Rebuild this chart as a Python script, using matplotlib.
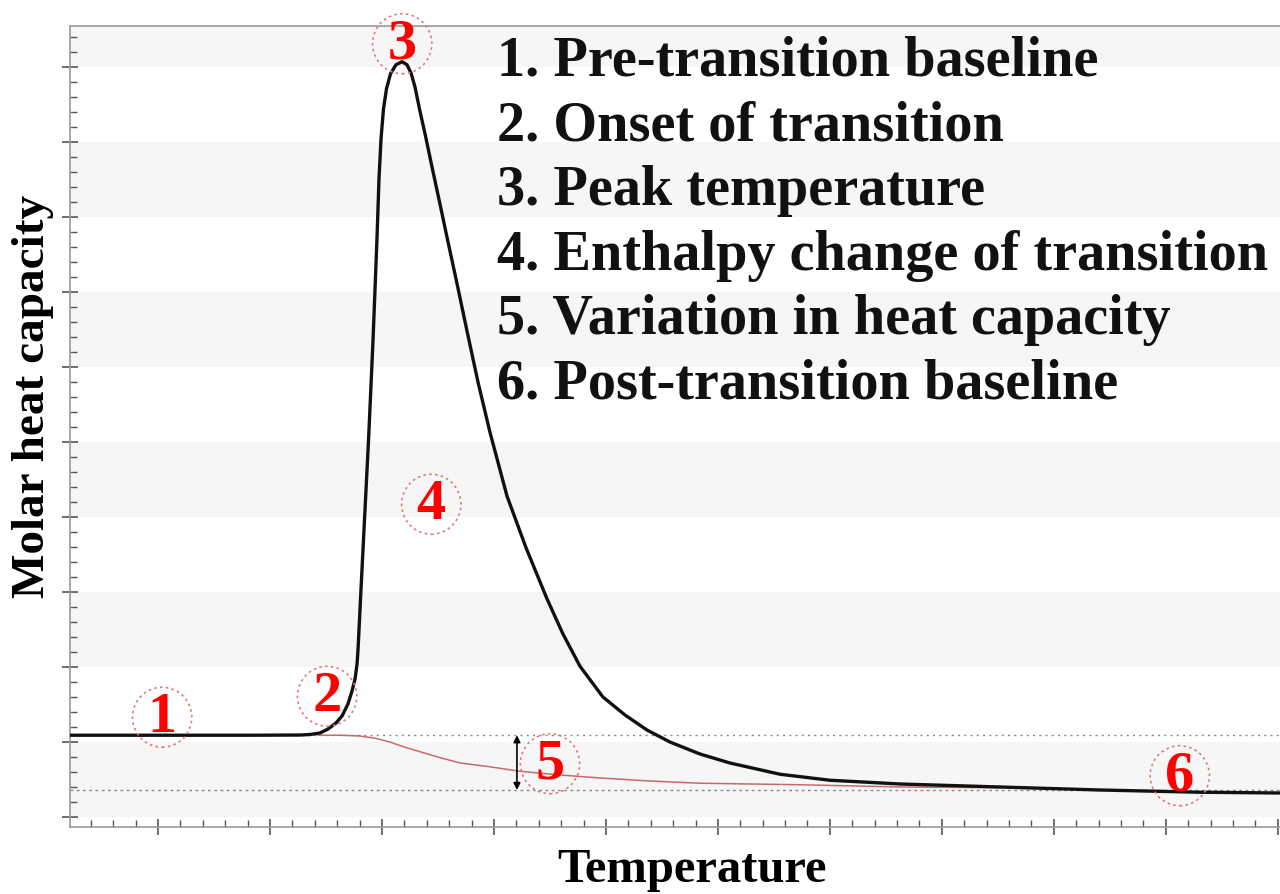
import matplotlib

matplotlib.use("Agg")
import matplotlib.pyplot as plt
import matplotlib.ticker as mticker
from matplotlib.patches import Ellipse

# --- data -------------------------------------------------------------------
temp = [2.0, 9.3, 18.2, 22.68, 23.57, 24.46, 25.18, 25.89, 26.43, 26.96, 27.32,
        27.59, 27.77, 27.86, 28.08, 28.35, 28.62, 28.80, 29.20, 29.55, 29.73,
        29.91, 30.13, 30.40, 30.76, 31.25, 31.79, 32.23, 32.59, 32.95, 33.39,
        33.84, 34.46, 35.18, 35.89, 36.70, 37.59, 38.57, 39.64, 41.16, 42.86,
        44.73, 46.16, 47.68, 49.73, 51.70, 53.66, 55.71, 58.39, 61.07, 65.54,
        70.00, 76.25, 85.18, 94.11, 103.04, 110.18]
cp = [1.09, 1.09, 1.09, 1.093, 1.10, 1.12, 1.173, 1.253, 1.347, 1.507, 1.68,
      1.84, 2.04, 2.24, 2.91, 3.71, 4.51, 5.04, 6.37, 7.71, 8.51,
      9.04, 9.44, 9.71, 9.91, 10.03, 10.07, 10.03, 9.92, 9.73, 9.41,
      9.11, 8.67, 8.17, 7.67, 7.11, 6.48, 5.80, 5.13, 4.28, 3.59,
      2.91, 2.44, 2.01, 1.60, 1.36, 1.16, 1.00, 0.84, 0.72, 0.57,
      0.49, 0.44, 0.40, 0.36, 0.33, 0.32]

# progress baseline (sigmoidal shift between pre- and post-transition)
base_temp = [24.3, 26.25, 28.0, 29.4, 30.7, 32.05, 33.4, 35.2, 37.0, 39.6,
             42.3, 45.9, 49.5, 53.9, 58.4, 67.3, 76.3, 85.2]
base_cp = [1.09, 1.09, 1.08, 1.05, 1.00, 0.93, 0.87, 0.79, 0.72, 0.67,
           0.61, 0.56, 0.52, 0.48, 0.45, 0.43, 0.40, 0.39]

pre_level = 1.09
post_level = 0.36
dcp_temp = 42.05

marker_labels = ["1", "2", "3", "4", "5", "6"]
marker_temp = [10.36, 25.1, 31.8, 34.4, 45.0, 101.25]
marker_cp = [1.33, 1.61, 10.31, 4.17, 0.71, 0.55]

legend_lines = [
    "1. Pre-transition baseline",
    "2. Onset of transition",
    "3. Peak temperature",
    "4. Enthalpy change of transition",
    "5. Variation in heat capacity",
    "6. Post-transition baseline",
]

SERIF = ["Liberation Serif", "DejaVu Serif"]
RED = "#ff0000"
RING = "#e07878"

fig = plt.figure(figsize=(12.8, 8.95), dpi=100)
ax = fig.add_axes([0.0544, 0.0749, 0.9456, 0.895])
ax.set_xlim(2.1, 110.2)
ax.set_ylim(-0.133, 10.547)

# alternating light bands between major y ticks
for lo in range(0, 11, 2):
    ax.axhspan(lo, min(lo + 1, 10.547), color="#f6f6f6", lw=0, zorder=0)

ax.axhline(pre_level, color="#888888", ls=(0, (1.5, 3)), lw=1, zorder=1)
ax.axhline(post_level, color="#888888", ls=(0, (2, 2.5)), lw=1, zorder=1)

ax.plot(base_temp, base_cp, color="#c96a6a", lw=1.1, zorder=2)
ax.plot(temp, cp, color="#111111", lw=2.4, zorder=3,
        solid_joinstyle="round")

ax.annotate("", xy=(dcp_temp, post_level), xytext=(dcp_temp, pre_level),
            arrowprops=dict(arrowstyle="<|-|>", color="black", lw=1.2,
                            mutation_scale=10, shrinkA=0, shrinkB=0), zorder=4)

for lab, t, c in zip(marker_labels, marker_temp, marker_cp):
    ax.add_patch(Ellipse((t, c), 5.3, 0.8, fill=False, ec=RING, lw=1.2,
                         ls=(0, (1.5, 2)), clip_on=False, zorder=5))
    ax.text(t, c, lab, color=RED, fontsize=42, fontweight="bold",
            family=SERIF, ha="center", va="center", zorder=6, clip_on=False)

for i, line in enumerate(legend_lines):
    ax.text(0.353, (828 - 62 - i * 64.6) / 801, line, transform=ax.transAxes,
            fontsize=40.5, fontweight="bold", family=SERIF, ha="left",
            va="center", color="#111111", zorder=6)

ax.set_xlabel("Temperature", fontsize=35, fontweight="bold", family=SERIF)
ax.set_ylabel("Molar heat capacity", fontsize=34, fontweight="bold",
              family=SERIF)
ax.xaxis.set_label_coords(0.514, -0.052)
ax.xaxis.label.set_verticalalignment("center")
ax.yaxis.set_label_coords(-0.030, 0.539)
ax.yaxis.label.set_verticalalignment("center")

ax.xaxis.set_major_locator(mticker.MultipleLocator(10))
ax.xaxis.set_minor_locator(mticker.MultipleLocator(2))
ax.yaxis.set_major_locator(mticker.MultipleLocator(1))
ax.yaxis.set_minor_locator(mticker.MultipleLocator(0.2))
ax.tick_params(which="major", direction="inout", length=12, width=1.2,
               color="#555555", labelbottom=False, labelleft=False)
ax.tick_params(which="minor", direction="in", length=5, width=1,
               color="#555555")
ax.tick_params(top=False, right=False, which="both")

for side in ("left", "bottom", "top"):
    ax.spines[side].set_color("#999999")
    ax.spines[side].set_linewidth(1.2)
ax.spines["right"].set_visible(False)

fig.savefig("out.png", dpi=100)
